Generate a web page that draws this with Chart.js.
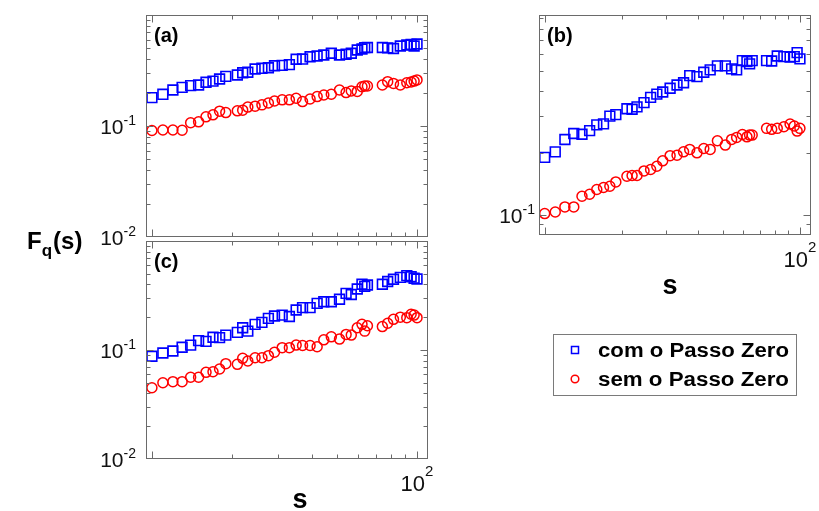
<!DOCTYPE html>
<html>
<head>
<meta charset="utf-8">
<script src="https://cdn.jsdelivr.net/npm/chart.js@4.4.1/dist/chart.umd.min.js"></script>
<style>
  html, body { margin: 0; padding: 0; background: #fff; }
  #wrap { position: relative; width: 819px; height: 511px; }
  #wrap canvas { position: absolute; left: 0; top: 0; }
</style>
</head>
<body>
<div id="wrap">
  <canvas id="chartA" width="819" height="511"></canvas>
  <canvas id="chartB" width="819" height="511"></canvas>
  <canvas id="chartC" width="819" height="511"></canvas>
</div>
<script>
// scale s (shared by all panels)
const scaleS = [10, 11, 12, 13, 14, 15, 16, 17, 18, 19, 21, 22, 23, 24.5, 26, 27.5, 29, 31, 33, 35,
  37, 39.5, 42, 44.5, 47.5, 51, 54, 56.5, 59.5, 62, 63.5, 65, 74, 77.5, 81.5, 86.5, 91.5, 95, 97.5, 100];

// panel (a)
const aCom = [0.180, 0.193, 0.211, 0.223, 0.231, 0.234, 0.248, 0.254, 0.265, 0.280, 0.288, 0.302, 0.305, 0.326,
  0.331, 0.335, 0.349, 0.352, 0.357, 0.399, 0.401, 0.421, 0.427, 0.436, 0.452, 0.436, 0.443, 0.452, 0.484, 0.494,
  0.508, 0.510, 0.510, 0.505, 0.499, 0.526, 0.537, 0.542, 0.526, 0.548];
const aSem = [0.0911, 0.092, 0.092, 0.0915, 0.107, 0.109, 0.121, 0.126, 0.136, 0.132, 0.137, 0.139, 0.148, 0.151,
  0.155, 0.161, 0.168, 0.172, 0.172, 0.178, 0.166, 0.175, 0.184, 0.190, 0.193, 0.211, 0.200, 0.207, 0.205, 0.226,
  0.229, 0.229, 0.234, 0.251, 0.242, 0.234, 0.245, 0.249, 0.254, 0.260];

// panel (b)
const bCom = [0.190, 0.202, 0.232, 0.248, 0.246, 0.256, 0.273, 0.276, 0.301, 0.306, 0.327, 0.325, 0.334, 0.350,
  0.371, 0.385, 0.394, 0.411, 0.426, 0.437, 0.473, 0.468, 0.491, 0.504, 0.527, 0.527, 0.510, 0.504, 0.559, 0.553,
  0.539, 0.559, 0.559, 0.557, 0.589, 0.585, 0.581, 0.585, 0.611, 0.570];
const bSem = [0.1016, 0.1034, 0.1094, 0.1094, 0.1232, 0.126, 0.1328, 0.1358, 0.1378, 0.1446, 0.154, 0.1553, 0.1553,
  0.1635, 0.1661, 0.1723, 0.1829, 0.1938, 0.1949, 0.2022, 0.2077, 0.200, 0.210, 0.2077, 0.2287, 0.218, 0.2323,
  0.2376, 0.2455, 0.2391, 0.2437, 0.2437, 0.2627, 0.2598, 0.2627, 0.2675, 0.2757, 0.2696, 0.2549, 0.2627];

// panel (c)
const cCom = [0.0876, 0.0939, 0.0979, 0.106, 0.111, 0.122, 0.120, 0.131, 0.130, 0.137, 0.145, 0.160, 0.149, 0.172,
  0.179, 0.195, 0.205, 0.209, 0.203, 0.233, 0.245, 0.245, 0.268, 0.277, 0.277, 0.292, 0.331, 0.323, 0.363, 0.401,
  0.384, 0.395, 0.401, 0.425, 0.446, 0.464, 0.481, 0.470, 0.455, 0.448];
const cSem = [0.0451, 0.0501, 0.0512, 0.0512, 0.0562, 0.0562, 0.0624, 0.0632, 0.0669, 0.0749, 0.0739, 0.0839,
  0.0793, 0.0850, 0.0850, 0.0887, 0.0953, 0.105, 0.105, 0.111, 0.110, 0.110, 0.107, 0.124, 0.132, 0.126, 0.139,
  0.137, 0.160, 0.172, 0.149, 0.167, 0.164, 0.176, 0.191, 0.200, 0.198, 0.213, 0.209, 0.198];

const seriesNames = ["com o Passo Zero", "sem o Passo Zero"];
const xRange = [9.5, 110];

const W = 819, H = 511;
const BLUE = "#0000ff", RED = "#ff0000";
const FONT = '"Liberation Sans", Arial, Helvetica, sans-serif';

function drawPow(ctx, exp, x, base, align, big, small, raise) {
  ctx.font = big + "px " + FONT;
  const w1 = ctx.measureText("10").width;
  ctx.font = small + "px " + FONT;
  const w2 = ctx.measureText(exp).width;
  const left = align === "right" ? x - w1 - w2 : x - (w1 + w2) / 2;
  ctx.textAlign = "left";
  ctx.textBaseline = "alphabetic";
  ctx.font = big + "px " + FONT;
  ctx.fillText("10", left, base);
  ctx.font = small + "px " + FONT;
  ctx.fillText(exp, left + w1, base - raise);
}

function stretchText(ctx, txt, x, y, font, width) {
  ctx.font = font;
  const w = ctx.measureText(txt).width;
  ctx.save();
  ctx.translate(x, y);
  ctx.scale(width ? width / w : 1, 1);
  ctx.textAlign = "left";
  ctx.textBaseline = "alphabetic";
  ctx.fillText(txt, 0, 0);
  ctx.restore();
}

function framePlugin(cfg) {
  return {
    id: "frame" + cfg.tag,
    afterDatasetsDraw(chart) {
      const ctx = chart.ctx;
      const a = chart.chartArea;
      const xs = chart.scales.x, ys = chart.scales.y;
      ctx.save();
      ctx.strokeStyle = "#6a6a6a";
      ctx.lineWidth = 1;
      const L = Math.round(a.left) + 0.5, R = Math.round(a.right) - 0.5;
      const T = Math.round(a.top) + 0.5, B = Math.round(a.bottom) - 0.5;
      ctx.strokeRect(L, T, R - L, B - T);

      ctx.beginPath();
      for (let v = 10; v <= 100; v += 10) {
        if (v < xs.min || v > xs.max) continue;
        const px = Math.round(xs.getPixelForValue(v)) + 0.5;
        const len = (v === 10 || v === 100) ? 7 : 4;
        ctx.moveTo(px, B); ctx.lineTo(px, B - len);
        ctx.moveTo(px, T); ctx.lineTo(px, T + len);
      }
      const e0 = Math.floor(Math.log10(ys.min)), e1 = Math.ceil(Math.log10(ys.max));
      for (let e = e0; e <= e1; e++) {
        for (let k = 1; k <= 9; k++) {
          const v = k * Math.pow(10, e);
          if (v < ys.min * 1.001 || v > ys.max * 0.999) continue;
          const py = Math.round(ys.getPixelForValue(v)) + 0.5;
          const len = k === 1 ? 7 : 4;
          ctx.moveTo(L, py); ctx.lineTo(L + len, py);
          ctx.moveTo(R, py); ctx.lineTo(R - len, py);
        }
      }
      ctx.stroke();

      ctx.fillStyle = "#111";
      cfg.yExp.forEach(e => {
        const py = ys.getPixelForValue(Math.pow(10, e));
        drawPow(ctx, String(e), cfg.labelRight, py + 8, "right", 21, 14, 9);
      });
      if (cfg.xLabel) {
        const px = xs.getPixelForValue(100);
        drawPow(ctx, "2", px, a.bottom + 32, "center", 22, 15, 15);
        ctx.fillStyle = "#000";
        ctx.font = "bold 27px " + FONT;
        ctx.textAlign = "center";
        ctx.fillText("s", cfg.xLabel[0], cfg.xLabel[1]);
      }
      ctx.fillStyle = "#000";
      ctx.font = "bold 20px " + FONT;
      ctx.textAlign = "left";
      ctx.fillText("(" + cfg.tag + ")", a.left + 8, a.top + 27);

      if (cfg.extra) cfg.extra(ctx, chart);
      ctx.restore();
    }
  };
}

function drawLegend(ctx, chart) {
  const bx = 553.5, by = 334.5, bw = 243, bh = 61;
  ctx.fillStyle = "#fff";
  ctx.fillRect(bx, by, bw, bh);
  ctx.strokeStyle = "#7a7a7a";
  ctx.lineWidth = 1;
  ctx.strokeRect(bx, by, bw, bh);
  const rows = [350, 379];
  chart.data.datasets.forEach((ds, i) => {
    ctx.lineWidth = 1.5;
    ctx.strokeStyle = ds.borderColor;
    if (ds.pointStyle === "rect") {
      ctx.strokeRect(571.5, rows[i] - 3.5, 7, 7);
    } else {
      ctx.beginPath();
      ctx.arc(575, rows[i], 3.8, 0, Math.PI * 2);
      ctx.stroke();
    }
    ctx.fillStyle = "#000";
    stretchText(ctx, ds.label, 598, rows[i] + 7, "bold 20px " + FONT, 191);
  });
}

function drawFq(ctx) {
  ctx.fillStyle = "#000";
  ctx.textAlign = "left";
  const x0 = 27;
  ctx.font = "bold 24px " + FONT;
  ctx.fillText("F", x0, 249);
  const wf = ctx.measureText("F").width;
  ctx.font = "bold 17px " + FONT;
  ctx.fillText("q", x0 + wf, 256);
  const wq = ctx.measureText("q").width;
  ctx.font = "bold 24px " + FONT;
  ctx.fillText("(s)", x0 + wf + wq + 1, 249);
}

function makePanel(id, com, sem, cfg) {
  return new Chart(document.getElementById(id), {
    type: "scatter",
    data: {
      datasets: [
        {
          label: seriesNames[0],
          data: scaleS.map((s, i) => ({ x: s, y: com[i] })),
          pointStyle: "rect",
          pointRadius: 6.9,
          borderColor: BLUE,
          backgroundColor: "rgba(0,0,0,0)",
          pointBorderWidth: 1.6
        },
        {
          label: seriesNames[1],
          data: scaleS.map((s, i) => ({ x: s, y: sem[i] })),
          pointStyle: "circle",
          pointRadius: 5,
          borderColor: RED,
          backgroundColor: "rgba(0,0,0,0)",
          pointBorderWidth: 1.5
        }
      ]
    },
    options: {
      responsive: false,
      animation: false,
      devicePixelRatio: 1,
      layout: {
        padding: { left: cfg.area[0], top: cfg.area[1], right: W - cfg.area[2], bottom: H - cfg.area[3] }
      },
      plugins: { legend: { display: false }, tooltip: { enabled: false } },
      scales: {
        x: { type: "logarithmic", min: xRange[0], max: xRange[1], bounds: "data", display: false },
        y: { type: "logarithmic", min: cfg.yRange[0], max: cfg.yRange[1], bounds: "data", display: false }
      }
    },
    plugins: [framePlugin(cfg)]
  });
}

makePanel("chartA", aCom, aSem, {
  tag: "a", area: [146, 15, 428, 237], yRange: [0.01, 1.0], yExp: [-1, -2], labelRight: 136,
  extra: drawFq
});
makePanel("chartC", cCom, cSem, {
  tag: "c", area: [146, 241, 428, 459], yRange: [0.01, 1.0], yExp: [-1, -2], labelRight: 136,
  xLabel: [300, 508]
});
makePanel("chartB", bCom, bSem, {
  tag: "b", area: [539, 15, 811, 235], yRange: [0.08, 0.93], yExp: [-1], labelRight: 535,
  xLabel: [670, 294], extra: drawLegend
});
</script>
</body>
</html>
